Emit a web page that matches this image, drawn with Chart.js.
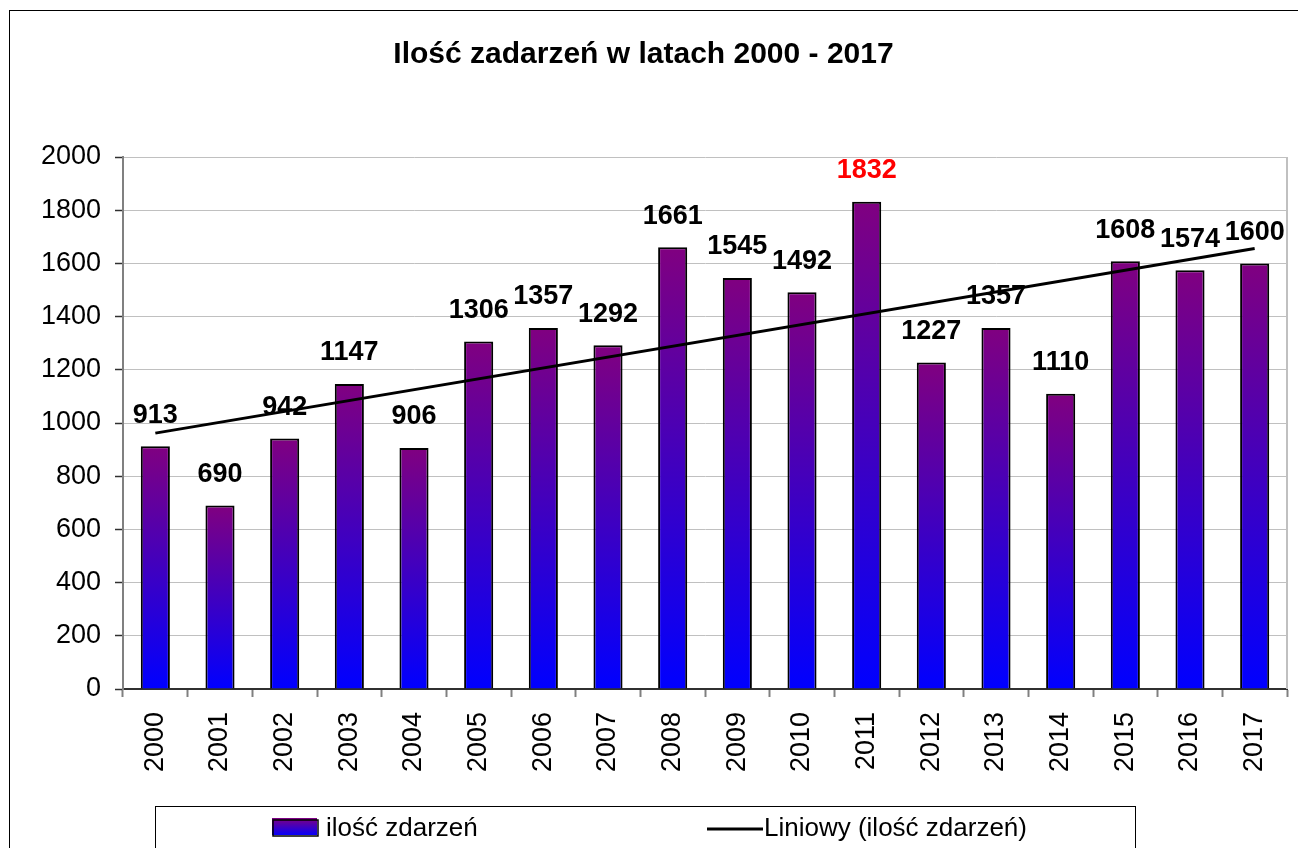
<!DOCTYPE html>
<html>
<head>
<meta charset="utf-8">
<title>Ilość zadarzeń w latach 2000 - 2017</title>
<script src="https://cdn.jsdelivr.net/npm/chart.js@4.4.1/dist/chart.umd.min.js"></script>
<style>
    html, body { margin: 0; padding: 0; background: #ffffff; }
    #wrap { width: 1298px; height: 848px; }
</style>
</head>
<body>
<div id="wrap"><canvas id="chart-events" width="1298" height="848"></canvas></div>
<script>
/**
 * Ilość zdarzeń 2000 - 2017 (bar chart + linear trend)
 */

const years = ['2000', '2001', '2002', '2003', '2004', '2005', '2006', '2007', '2008',
               '2009', '2010', '2011', '2012', '2013', '2014', '2015', '2016', '2017'];
const eventCounts = [913, 690, 942, 1147, 906, 1306, 1357, 1292, 1661,
                     1545, 1492, 1832, 1227, 1357, 1110, 1608, 1574, 1600];

// trend line values at the first and last year
const trendFirst = 962;
const trendLast = 1656;

const yMin = 0;
const yMax = 2000;
const yStep = 200;

const FONT = 'Arial, "Liberation Sans", sans-serif';

const trendValues = years.map((_, i) => {
    if (i === 0) return trendFirst;
    if (i === years.length - 1) return trendLast;
    return null;
});

/**
 * Purple-to-blue gradient, one per bar.
 */
function barGradient(context) {
    const chart = context.chart;
    if (!chart.chartArea || context.type !== 'data') return '#800080';
    const y = chart.scales.y;
    const top = y.getPixelForValue(context.parsed.y);
    const bottom = y.getPixelForValue(0);
    const g = chart.ctx.createLinearGradient(0, top, 0, bottom);
    g.addColorStop(0, '#800080');
    g.addColorStop(1, '#0000ff');
    return g;
}

// white page, outer frame and plot border
const framePlugin = {
    id: 'frame',
    beforeDraw(chart) {
        const ctx = chart.ctx;
        ctx.save();
        ctx.fillStyle = '#ffffff';
        ctx.fillRect(0, 0, chart.width, chart.height);
        ctx.strokeStyle = '#000000';
        ctx.lineWidth = 1;
        ctx.strokeRect(9.5, 10.5, chart.width + 20, chart.height + 20);
        ctx.restore();
    },
    afterDraw(chart) {
        const { ctx, chartArea } = chart;
        ctx.save();
        ctx.strokeStyle = '#c0c0c0';
        ctx.lineWidth = 2;
        ctx.beginPath();
        ctx.moveTo(chartArea.right, chartArea.top);
        ctx.lineTo(chartArea.right, chartArea.bottom);
        ctx.stroke();
        ctx.restore();
    }
};

// value above every bar, the highest one in red
const valueLabels = {
    id: 'valueLabels',
    afterDatasetsDraw(chart) {
        const ctx = chart.ctx;
        const meta = chart.getDatasetMeta(0);
        const peak = Math.max(...eventCounts);
        ctx.save();
        ctx.font = 'bold 27px ' + FONT;
        ctx.textAlign = 'center';
        ctx.textBaseline = 'middle';
        meta.data.forEach((bar, i) => {
            const v = eventCounts[i];
            ctx.fillStyle = v === peak ? '#ff0000' : '#000000';
            ctx.fillText(String(v), bar.x, bar.y - 31);
        });
        ctx.restore();
    }
};

// Excel-like legend box at the bottom
const legendBox = {
    id: 'legendBox',
    afterDraw(chart) {
        const ctx = chart.ctx;
        const ds = chart.data.datasets;
        ctx.save();
        ctx.strokeStyle = '#000000';
        ctx.lineWidth = 1;
        ctx.strokeRect(155.5, 806.5, 980, 80);

        const g = ctx.createLinearGradient(0, 818, 0, 836);
        g.addColorStop(0, '#800080');
        g.addColorStop(1, '#0000ff');
        ctx.fillStyle = g;
        ctx.fillRect(272, 818, 45, 17);
        ctx.lineWidth = 1.5;
        ctx.strokeRect(273, 820, 45, 16);

        ctx.font = '26px ' + FONT;
        ctx.textBaseline = 'middle';
        ctx.fillStyle = '#000000';
        ctx.fillText(ds[0].label, 326, 829);

        ctx.lineWidth = 3;
        ctx.beginPath();
        ctx.moveTo(707, 829);
        ctx.lineTo(763, 829);
        ctx.stroke();
        ctx.fillText(ds[1].label, 764, 829);
        ctx.restore();
    }
};

const ctx = document.getElementById('chart-events').getContext('2d');

new Chart(ctx, {
    type: 'bar',
    data: {
        labels: years,
        datasets: [{
            type: 'bar',
            label: 'ilość zdarzeń',
            data: eventCounts,
            backgroundColor: barGradient,
            borderColor: '#000000',
            borderWidth: 2,
            borderSkipped: 'bottom',
            categoryPercentage: 1.0,
            barPercentage: 0.45,
            order: 2
        }, {
            type: 'line',
            label: 'Liniowy (ilość zdarzeń)',
            data: trendValues,
            borderColor: '#000000',
            borderWidth: 3,
            pointRadius: 0,
            spanGaps: true,
            fill: false,
            order: 1
        }]
    },
    options: {
        responsive: false,
        animation: false,
        devicePixelRatio: 1,
        layout: {
            padding: { left: 0, right: 11, top: 0, bottom: 0 }
        },
        plugins: {
            legend: { display: false },
            tooltip: { enabled: false },
            title: {
                display: true,
                text: 'Ilość zadarzeń w latach 2000 - 2017',
                color: '#000000',
                font: { family: FONT, size: 30, weight: 'bold', lineHeight: 1.2 },
                padding: { top: 37, bottom: 84 }
            }
        },
        scales: {
            x: {
                grid: {
                    drawOnChartArea: false,
                    drawTicks: true,
                    tickLength: 8,
                    tickColor: '#808080',
                    tickWidth: 2
                },
                border: { color: '#303030', width: 2 },
                ticks: {
                    color: '#000000',
                    font: { family: FONT, size: 27 },
                    minRotation: 90,
                    maxRotation: 90,
                    padding: 15,
                    autoSkip: false
                },
                afterFit(scale) {
                    scale.height = 159;
                    scale.paddingLeft = 0;
                    scale.paddingRight = 0;
                }
            },
            y: {
                min: yMin,
                max: yMax,
                grid: {
                    color: '#c0c0c0',
                    lineWidth: 1,
                    tickLength: 8,
                    tickColor: '#303030',
                    tickWidth: 1.5
                },
                border: { color: '#808080', width: 2 },
                ticks: {
                    stepSize: yStep,
                    color: '#000000',
                    font: { family: FONT, size: 27 },
                    padding: 14,
                    callback: (value) => String(value)
                },
                afterFit(scale) { scale.width = 123; }
            }
        }
    },
    plugins: [framePlugin, valueLabels, legendBox]
});
</script>
</body>
</html>
